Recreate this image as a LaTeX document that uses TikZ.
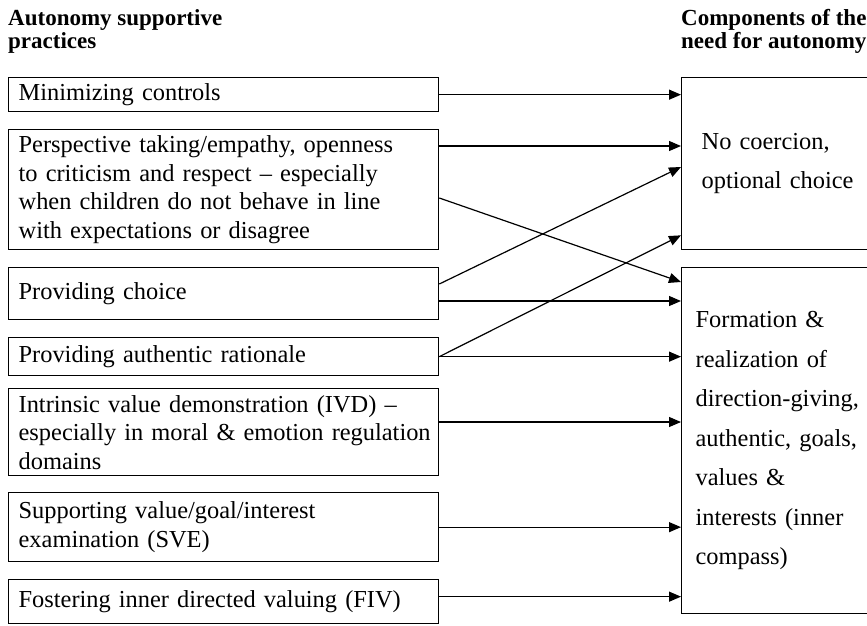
\documentclass[tikz,border=0pt]{standalone}
\usepackage{fontspec}
\setmainfont{Liberation Serif}
\usetikzlibrary{arrows.meta}

\tikzset{
  practice/.style={draw, line width=1.3pt, anchor=north west, text width=410pt,
    inner xsep=10pt, inner ysep=0pt, align=left, font=\fontsize{24.4}{28.5}\selectfont},
  component/.style={draw, line width=1.3pt, anchor=north west, text width=180pt,
    inner ysep=0pt, align=left, font=\fontsize{24.4}{39.5}\selectfont},
  heading/.style={anchor=base west, align=left, inner sep=0pt,
    font=\bfseries\fontsize{23}{23}\selectfont},
  link/.style={line width=1.2pt, -{Triangle[length=12pt,width=10pt]}},
}

\begin{document}
\begin{tikzpicture}[x=1pt,y=-1pt]
\useasboundingbox (0,0) rectangle (867,625);

% headings
\node[heading] (lhead) at (8,48) {Autonomy supportive\\practices};
\node[heading] (rhead) at (681,48) {Components of the\\need for autonomy};

% practices
\node[practice, minimum height=34pt] (ctl) at (8,77) {Minimizing controls};
\node[practice, minimum height=120pt] (persp) at (8,129) {Perspective taking/empathy, openness\\to criticism and respect -- especially\\when children do not behave in line\\with expectations or disagree};
\node[practice, minimum height=52pt] (choice) at (8,267) {Providing choice};
\node[practice, minimum height=38pt] (rat) at (8,337) {Providing authentic rationale};
\node[practice, minimum height=87pt] (ivd) at (8,388) {Intrinsic value demonstration (IVD) --\\\mbox{especially in moral \& emotion regulation}\\domains};
\node[practice, minimum height=69pt] (sve) at (8,492) {Supporting value/goal/interest\\examination (SVE)};
\node[practice, minimum height=44pt] (fiv) at (8,579) {Fostering inner directed valuing (FIV)};

% components
\node[component, inner xsep=20pt, minimum height=172pt] (noco) at (681,77) {No coercion,\\optional choice};
\node[component, inner xsep=14pt, minimum height=346pt] (form) at (681,267) {Formation \&\\realization of\\direction-giving,\\authentic, goals,\\values \&\\interests (inner\\compass)};

% arrows
\coordinate (p1) at ([yshift=-17pt]persp.north east);
\coordinate (p2) at ([yshift=-69pt]persp.north east);
\coordinate (c1) at ([yshift=-17pt]choice.north east);
\coordinate (c2) at ([yshift=-34pt]choice.north east);
\coordinate (v1) at ([yshift=-34pt]ivd.north east);
\coordinate (f1) at ([yshift=5pt]fiv.east);

\draw[link] (ctl.east) -- (ctl.east -| noco.west);
\draw[link] (p1) -- (p1 -| noco.west);
\draw[link] (p2) -- ([yshift=-15pt]form.north west);
\draw[link] (c1) -- ([yshift=-90pt]noco.north west);
\draw[link] (c2) -- (c2 -| form.west);
\draw[link] (rat.east) -- ([yshift=15pt]noco.south west);
\draw[link] (rat.east) -- (rat.east -| form.west);
\draw[link] (v1) -- (v1 -| form.west);
\draw[link] (sve.east) -- (sve.east -| form.west);
\draw[link] (f1) -- (f1 -| form.west);

\end{tikzpicture}
\end{document}
